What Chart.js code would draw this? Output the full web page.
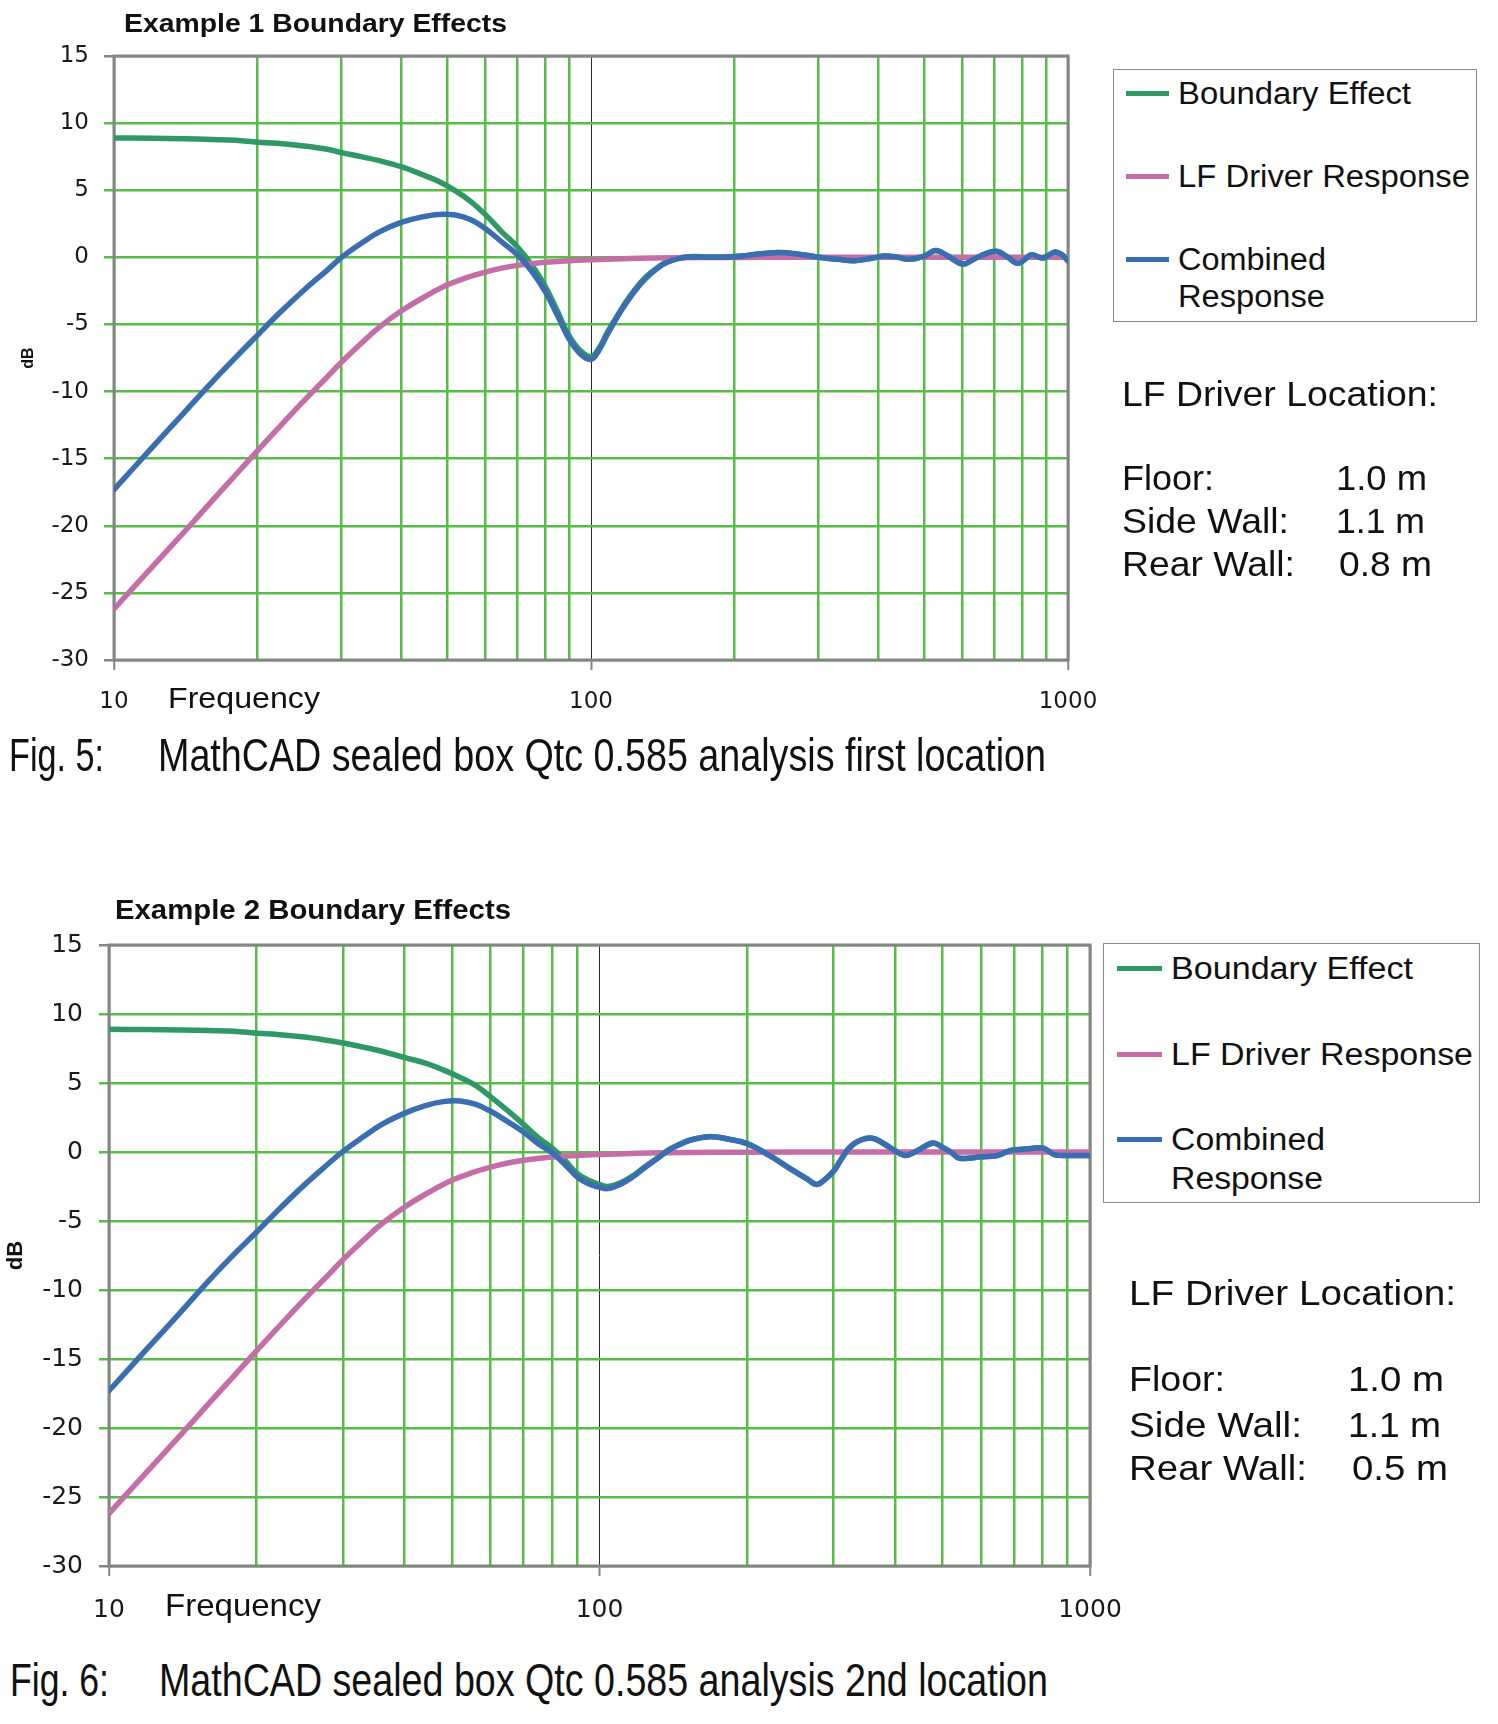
<!DOCTYPE html>
<html>
<head>
<meta charset="utf-8">
<script src="https://cdn.jsdelivr.net/npm/chart.js@4.4.1/dist/chart.umd.min.js"></script>
<style>
html,body{margin:0;padding:0;background:#fff;}
#page{position:relative;width:1498px;height:1724px;overflow:hidden;font-family:"Liberation Sans",Arial,Helvetica,sans-serif;color:#111;}
canvas{position:absolute;left:0;}
.t{position:absolute;white-space:nowrap;line-height:1;transform-origin:0 0;display:inline-block;}
.box{position:absolute;border:1.5px solid #8a8a8a;box-sizing:border-box;background:#fff;}
.sw{position:absolute;height:5px;}
</style>
</head>
<body>
<div id="page">
<canvas id="c1" width="1498" height="740" style="top:0px"></canvas>
<canvas id="c2" width="1498" height="786" style="top:860px"></canvas>
</div>
<script>
// ---------- data ----------
const gridFreqs = [10,20,30,40,50,60,70,80,90,100,200,300,400,500,600,700,800,900,1000];
const decadeLabels = [10,100,1000];
const dbTicks = [-30,-25,-20,-15,-10,-5,0,5,10,15];

// LF driver response (same in both figures)
const lfFreq   = [10,12,14,16,18,20,22,25,28,30,33,36,40,45,50,55,60,65,70,80,90,100,120,150,200,300,1000];
const lfDriver = [-26.2,-23.1,-20.5,-18.2,-16.2,-14.4,-12.8,-10.7,-8.9,-7.8,-6.4,-5.2,-4.0,-2.9,-2.05,-1.5,-1.1,-0.8,-0.6,-0.37,-0.25,-0.18,-0.09,-0.04,-0.01,0,0];

// Fig. 5 (first location)
const fig5Freq = [10,12,14,16,18,20,22,25,28,30,33,36,40,44,48,52,56,60,65,70,75,80,85,90,95,100,104,108,112,117,123,130,138,145,158,180,200,243,277,300,330,357,390,413,440,464,500,528,560,601,630,655,706,745,785,815,839,886,939,970,1000];
const fig5Boundary = [8.9,8.87,8.83,8.78,8.72,8.58,8.5,8.3,8.05,7.8,7.5,7.2,6.75,6.2,5.65,4.95,4.15,3.2,1.9,0.8,-0.55,-2.1,-4.0,-5.85,-6.95,-7.4,-6.75,-5.65,-4.7,-3.6,-2.5,-1.5,-0.75,-0.3,0.03,0.02,0.06,0.35,0.2,0,-0.15,-0.25,-0.05,0.1,0,-0.15,0.1,0.5,0.1,-0.5,-0.2,0.1,0.45,0.05,-0.45,-0.1,0.2,-0.05,0.4,0.2,-0.25];
const fig5Combined = [-17.3,-14.2,-11.6,-9.35,-7.45,-5.8,-4.3,-2.45,-0.95,0.0,1.05,1.9,2.6,3.0,3.2,3.15,2.8,2.15,1.15,0.2,-1.0,-2.5,-4.3,-6.1,-7.2,-7.6,-6.9,-5.8,-4.8,-3.7,-2.6,-1.6,-0.8,-0.35,0,0,0.05,0.35,0.2,0,-0.15,-0.25,-0.05,0.1,0,-0.15,0.1,0.5,0.1,-0.5,-0.2,0.1,0.45,0.05,-0.45,-0.1,0.2,-0.05,0.4,0.2,-0.25];

// Fig. 6 (2nd location)
const fig6Freq = [10,12,14,16,18,20,22,25,28,30,33,36,40,44,48,52,56,60,65,70,75,80,85,90,95,100,104,111,118,124,131,138,145,153,162,170,185,200,222,247,265,277,288,300,312,324,340,360,380,400,421,445,478,500,520,542,600,647,680,700,760,800,825,848,900,1000];
const fig6Boundary = [8.9,8.87,8.84,8.8,8.75,8.6,8.52,8.33,8.08,7.9,7.6,7.3,6.85,6.45,5.95,5.4,4.8,4.0,3.0,2.0,1.05,0.3,-0.6,-1.55,-2.05,-2.35,-2.5,-2.2,-1.63,-1.05,-0.45,0.14,0.53,0.87,1.06,1.11,0.91,0.61,-0.24,-1.3,-1.95,-2.35,-2.0,-1.4,-0.45,0.35,0.85,1.0,0.6,0.1,-0.25,0.1,0.65,0.35,0,-0.45,-0.35,-0.25,0.05,0.15,0.25,0.3,0.05,-0.2,-0.25,-0.25];
const fig6Combined = [-17.3,-14.2,-11.6,-9.3,-7.4,-5.8,-4.3,-2.4,-0.85,0.05,1.1,2.0,2.8,3.35,3.65,3.7,3.45,2.95,2.2,1.45,0.6,-0.05,-0.9,-1.8,-2.3,-2.55,-2.65,-2.3,-1.7,-1.1,-0.5,0.1,0.5,0.85,1.05,1.1,0.9,0.6,-0.25,-1.3,-1.95,-2.35,-2.0,-1.4,-0.45,0.35,0.85,1.0,0.6,0.1,-0.25,0.1,0.65,0.35,0,-0.45,-0.35,-0.25,0.05,0.15,0.25,0.3,0.05,-0.2,-0.25,-0.25];

const seriesLabels = ['Boundary Effect','LF Driver Response','Combined Response'];
const seriesColors = ['#2f9864','#c46ea8','#3a6eb0'];

// ---------- styling ----------
const FONT = "'Liberation Sans', Arial, Helvetica, sans-serif";
const TICKFONT = "'DejaVu Sans', 'Liberation Sans', Arial, sans-serif";
const GRID = '#58bc48';
const FRAME = '#858585';

function zip(xs, ys){ return xs.map((x,i)=>({x:x, y:ys[i]})); }

const framePlugin = {
  id:'frame',
  beforeDatasetsDraw(chart){
    const {ctx, chartArea:a} = chart;
    ctx.save();
    ctx.strokeStyle = FRAME; ctx.lineWidth = 3;
    ctx.strokeRect(a.left, a.top, a.right-a.left, a.bottom-a.top);
    ctx.restore();
  }
};

function buildChart(id, p){
  const sets = [
    {label:seriesLabels[0], data:zip(p.freq,p.boundary), borderColor:seriesColors[0], order:3},
    {label:seriesLabels[1], data:zip(lfFreq,lfDriver), borderColor:seriesColors[1], order:2},
    {label:seriesLabels[2], data:zip(p.freq,p.combined), borderColor:seriesColors[2], order:1}
  ].map(d=>Object.assign(d,{borderWidth:p.lw, pointRadius:0, pointHoverRadius:0, fill:false,
        tension:0.4, backgroundColor:d.borderColor, borderCapStyle:'round', borderJoinStyle:'round'}));
  return new Chart(document.getElementById(id), {
    type:'line',
    data:{datasets:sets},
    options:{
      responsive:false, animation:false, devicePixelRatio:1,
      events:[],
      layout:{padding:{top:p.top, right:1498-p.right, left:0, bottom:0}},
      plugins:{legend:{display:false}, tooltip:{enabled:false}, title:{display:false}},
      scales:{
        x:{
          type:'logarithmic', min:10, max:1000,
          afterBuildTicks:s=>{ s.ticks = gridFreqs.map(v=>({value:v})); },
          afterFit:s=>{ s.height = p.xAxisH; },
          border:{display:false},
          grid:{
            color:c=>(c.tick && c.tick.value===100) ? '#2a2a2a' : GRID,
            lineWidth:c=>(c.tick && c.tick.value===100) ? 1 : 2.5,
            drawTicks:true, tickLength:10, tickWidth:2,
            tickColor:c=>(c.tick && decadeLabels.includes(c.tick.value)) ? FRAME : 'rgba(0,0,0,0)'
          },
          ticks:{autoSkip:false, maxRotation:0, minRotation:0, padding:p.xPad, color:'#1a1a1a',
                 font:{family:TICKFONT, size:p.tickFs},
                 callback:v=>decadeLabels.includes(v) ? String(v) : ''}
        },
        y:{
          min:-30, max:15,
          afterBuildTicks:s=>{ s.ticks = dbTicks.map(v=>({value:v})); },
          afterFit:s=>{ s.width = p.left; },
          border:{display:false},
          grid:{
            color:GRID, lineWidth:2.5, drawTicks:true, tickLength:10, tickWidth:2.5,
            tickColor:c=>(c.tick && (c.tick.value===15 || c.tick.value===-30)) ? FRAME : GRID
          },
          ticks:{padding:p.yPad, color:'#1a1a1a', font:{family:TICKFONT, size:p.tickFs}},
          title:{display:true, text:'dB', color:'#111', font:{family:FONT, size:p.dbFs, weight:'bold'}, padding:{top:p.dbPad, bottom:0}}
        }
      }
    },
    plugins:[framePlugin]
  });
}

const chart1 = buildChart('c1', {freq:fig5Freq, boundary:fig5Boundary, combined:fig5Combined,
  top:56, right:1068, left:114, xAxisH:80, xPad:18, yPad:15, tickFs:23, lw:5.5, dbFs:16, dbPad:19});
const chart2 = buildChart('c2', {freq:fig6Freq, boundary:fig6Boundary, combined:fig6Combined,
  top:85, right:1090, left:109, xAxisH:80, xPad:19, yPad:16, tickFs:25, lw:5.5, dbFs:22, dbPad:3});

// ---------- HTML text ----------
const page = document.getElementById('page');
const fits = [];
function place(text, x, capCenterY, fs, opts){
  opts = opts || {};
  const el = document.createElement('div');
  el.className = 't';
  el.textContent = text;
  el.style.fontSize = fs + 'px';
  el.style.fontFamily = opts.family || FONT;
  el.style.fontWeight = opts.bold ? 'bold' : 'normal';
  el.style.left = x + 'px';
  el.style.top = (capCenterY - 0.488*fs) + 'px';
  page.appendChild(el);
  if (opts.w) fits.push([el, opts.w]);
  return el;
}
function legend(chart, L){
  const box = document.createElement('div');
  box.className = 'box';
  box.style.left = L.box[0]+'px'; box.style.top = L.box[1]+'px';
  box.style.width = (L.box[2]-L.box[0])+'px'; box.style.height = (L.box[3]-L.box[1])+'px';
  page.appendChild(box);
  let row = 0;
  chart.data.datasets.forEach((ds, i)=>{
    const sw = document.createElement('div');
    sw.className = 'sw';
    sw.style.background = ds.borderColor;
    sw.style.left = L.sx+'px'; sw.style.width = L.sw+'px';
    sw.style.top = (L.sy[i]-2.5)+'px';
    page.appendChild(sw);
    const lines = (i === 2) ? ds.label.split(' ') : [ds.label];
    lines.forEach(line=>{
      place(line, L.tx, L.ty[row], L.fs, {w:L.tw[row]});
      row++;
    });
  });
}

// Figure 5
place('Example 1 Boundary Effects', 124, 22.5, 26, {bold:true, w:383});
place('Frequency', 168, 698, 29, {w:152});
place('Fig. 5:', 9, 754, 46, {w:95});
place('MathCAD sealed box Qtc 0.585 analysis first location', 158, 754, 46, {w:888});
legend(chart1, {box:[1113,69,1477,322], sx:1126, sw:43, sy:[93,176,259], tx:1178,
  ty:[93,176,259,296], tw:[233,292,148,147], fs:31});
place('LF Driver Location:', 1122, 393, 35, {w:316});
place('Floor:', 1122, 477, 35, {w:92});
place('1.0 m', 1336, 477, 35, {w:91});
place('Side Wall:', 1122, 520, 35, {w:167});
place('1.1 m', 1336, 520, 35, {w:89});
place('Rear Wall:', 1122, 563, 35, {w:173});
place('0.8 m', 1339, 563, 35, {w:93});

// Figure 6
place('Example 2 Boundary Effects', 115, 910, 27, {bold:true, w:396});
place('Frequency', 165, 1604.7, 32, {w:156});
place('Fig. 6:', 10, 1679, 47, {w:99});
place('MathCAD sealed box Qtc 0.585 analysis 2nd location', 159, 1679, 47, {w:889});
legend(chart2, {box:[1103,943,1480,1203], sx:1117, sw:45, sy:[968,1054,1139], tx:1171,
  ty:[968,1054,1139,1178.5], tw:[242,302,154,152], fs:31});
place('LF Driver Location:', 1129, 1292.5, 35, {w:327});
place('Floor:', 1129, 1378.5, 35, {w:96});
place('1.0 m', 1348, 1378.5, 35, {w:96});
place('Side Wall:', 1129, 1424, 35, {w:173});
place('1.1 m', 1348, 1424, 35, {w:93});
place('Rear Wall:', 1129, 1467.5, 35, {w:178});
place('0.5 m', 1352, 1467.5, 35, {w:96});

fits.forEach(([el, w])=>{
  const cur = el.getBoundingClientRect().width;
  if (cur > 0) el.style.transform = 'scaleX(' + (w/cur).toFixed(4) + ')';
});
</script>
</body>
</html>
